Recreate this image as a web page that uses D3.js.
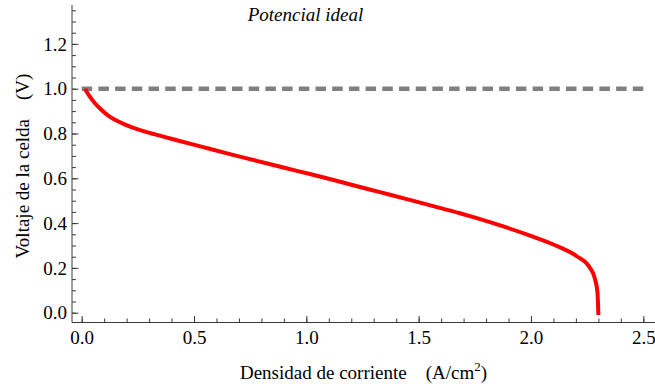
<!DOCTYPE html>
<html><head><meta charset="utf-8">
<script src="https://cdn.jsdelivr.net/npm/d3@7/dist/d3.min.js"></script>
<style>
body{margin:0;background:#fff}
svg{display:block}
text{font-family:"Liberation Serif","Times New Roman",serif;fill:#000}
</style>
</head><body>
<svg id="chart" width="655" height="389"></svg>
<script>
// ---- data ----
const currentDensity = [0.015,0.022,0.037,0.059,0.085,0.118,0.150,0.193,0.267,0.326,0.423,0.541,0.660,0.779,0.898,1.016,1.091,1.209,1.328,1.447,1.565,1.684,1.759,1.877,1.996,2.115,2.204,2.263,2.285,2.296,2.300];
const cellVoltage    = [1.000,0.987,0.963,0.935,0.908,0.880,0.860,0.840,0.813,0.796,0.770,0.739,0.708,0.678,0.648,0.619,0.600,0.569,0.538,0.507,0.476,0.444,0.422,0.385,0.344,0.298,0.252,0.200,0.150,0.090,-0.010];
const idealPotential = 1.0;
const idealRange = [0, 2.5];
const xTickLabels = [0.0,0.5,1.0,1.5,2.0,2.5];
const yTickLabels = [0.0,0.2,0.4,0.6,0.8,1.0,1.2];
const xTitle = "Densidad de corriente";
const xUnit = "(A/cm";
const yTitle = "Voltaje de la celda";
const yUnit = "(V)";
const annotation = "Potencial ideal";

// ---- layout ----
const FONT = '"Liberation Serif","Times New Roman",serif';
const svg = d3.select("#chart");
const x = d3.scaleLinear().domain([0, 2.5]).range([81.7, 643.3]);
const y = d3.scaleLinear().domain([0, 1.2]).range([312.7, 43.9]);
const axisX0 = 72, axisY0 = 322.5, axisRight = 655, axisTop = 5;
const axisColor = "#3a3a3a";
const fontSize = 19;

const xMinor = d3.range(0, 2.5001, 0.1).filter(v => x(v) < axisRight);
const yMinor = d3.range(0, 1.3501, 0.05);

function styleAxis(g) {
  g.attr("font-family", FONT).attr("font-size", fontSize);
  g.select(".domain").remove();
  g.selectAll(".tick line").attr("stroke", axisColor);
  g.selectAll(".tick text").attr("fill", "#000").style("font-family", FONT).style("font-size", fontSize + "px");
}

// x axis
const gx = svg.append("g").attr("transform", `translate(0,${axisY0})`);
gx.append("line").attr("x1", axisX0).attr("x2", axisRight).attr("stroke", axisColor).attr("stroke-width", 1);
gx.append("g").call(d3.axisBottom(x).tickValues(xMinor).tickSize(-4).tickFormat("")).call(styleAxis);
gx.append("g").call(d3.axisBottom(x).tickValues(xTickLabels).tickSize(-6.5).tickFormat(d3.format(".1f")))
  .call(styleAxis)
  .call(g => g.selectAll(".tick text").attr("y", 21).attr("dy", null));

// y axis
const gy = svg.append("g").attr("transform", `translate(${axisX0},0)`);
gy.append("line").attr("y1", axisTop).attr("y2", axisY0).attr("stroke", axisColor).attr("stroke-width", 1);
gy.append("g").call(d3.axisLeft(y).tickValues(yMinor).tickSize(-4).tickFormat("")).call(styleAxis);
gy.append("g").call(d3.axisLeft(y).tickValues(yTickLabels).tickSize(-6.5).tickFormat(d3.format(".1f")))
  .call(styleAxis)
  .call(g => g.selectAll(".tick text").attr("x", -5).attr("dy", "0.33em"));

// ideal potential dashed line
svg.append("line")
  .attr("x1", x(idealRange[0])).attr("x2", x(idealRange[1]))
  .attr("y1", y(idealPotential)).attr("y2", y(idealPotential))
  .attr("stroke", "#808080").attr("stroke-width", 4.5)
  .attr("stroke-dasharray", "10.5,6.2");

// polarization curve
const pts = currentDensity.map((d, i) => [d, cellVoltage[i]]);
svg.append("path").datum(pts)
  .attr("d", d3.line().x(d => x(d[0])).y(d => y(d[1])).curve(d3.curveMonotoneX))
  .attr("fill", "none").attr("stroke", "#ff0000").attr("stroke-width", 4);

// annotation
svg.append("text").attr("x", 305.5).attr("y", 20.5).attr("text-anchor", "middle")
  .style("font-size", fontSize + "px").style("font-style", "italic").text(annotation);

// x title
const xt = svg.append("text").attr("x", 363.5).attr("y", 379).attr("text-anchor", "middle")
  .style("font-size", fontSize + "px").attr("xml:space", "preserve");
xt.append("tspan").text(xTitle + "    " + xUnit);
xt.append("tspan").attr("dy", -8).style("font-size", "13px").text("2");
xt.append("tspan").attr("dy", 8).text(")");

// y title
svg.append("text").attr("transform", "translate(29,166) rotate(-90)").attr("text-anchor", "middle")
  .style("font-size", fontSize + "px").attr("xml:space", "preserve")
  .text(yTitle + "    " + yUnit);
</script>
</body></html>
